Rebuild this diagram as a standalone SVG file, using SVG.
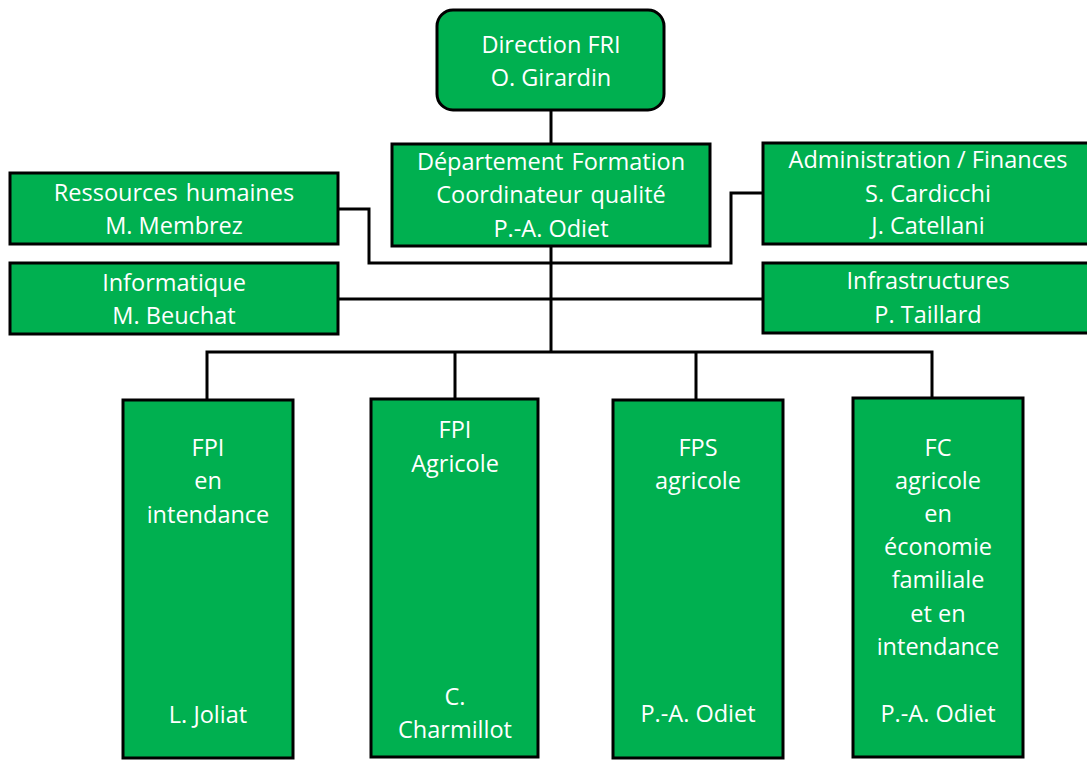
<svg xmlns="http://www.w3.org/2000/svg" width="1087" height="760" viewBox="0 0 1087 760">
<style>
.box{fill:#00B050;stroke:#000;stroke-width:3}
.t{font-family:"Open Sans",Lato,sans-serif;font-size:23.5px;fill:#fff;text-anchor:middle}
.c{fill:none;stroke:#000;stroke-width:3}
</style>
<rect width="1087" height="760" fill="#fff"/>
<g id="connectors">
<path class="c" d="M551 110V144"/>
<path class="c" d="M551 247V352"/>
<path class="c" d="M338 209H369V263H731V193H763"/>
<path class="c" d="M338 299H763"/>
<path class="c" d="M207 400V352H932V400M455 352V400M696 352V400"/>
</g>
<g id="direction">
<rect class="box" x="437" y="10" width="227" height="100" rx="16"/>
<text class="t" x="551" y="53">Direction FRI</text>
<text class="t" x="551" y="86">O. Girardin</text>
</g>
<g id="departement">
<rect class="box" x="392" y="144" width="318" height="102"/>
<text class="t" x="551" y="170" word-spacing="2">Département Formation</text>
<text class="t" x="551" y="203" word-spacing="2">Coordinateur qualité</text>
<text class="t" x="551" y="237">P.-A. Odiet</text>
</g>
<g id="rh">
<rect class="box" x="10" y="173" width="328" height="71"/>
<text class="t" x="174" y="201" word-spacing="2">Ressources humaines</text>
<text class="t" x="174" y="234">M. Membrez</text>
</g>
<g id="informatique">
<rect class="box" x="10" y="263" width="328" height="71"/>
<text class="t" x="174" y="291">Informatique</text>
<text class="t" x="174" y="324">M. Beuchat</text>
</g>
<g id="admin">
<rect class="box" x="763" y="143" width="330" height="101"/>
<text class="t" x="928" y="168">Administration / Finances</text>
<text class="t" x="928" y="202">S. Cardicchi</text>
<text class="t" x="928" y="234">J. Catellani</text>
</g>
<g id="infra">
<rect class="box" x="763" y="263" width="330" height="70"/>
<text class="t" x="928" y="289">Infrastructures</text>
<text class="t" x="928" y="323">P. Taillard</text>
</g>
<g id="fpi-intendance">
<rect class="box" x="123" y="400" width="170" height="358"/>
<text class="t" x="208" y="456">FPI</text>
<text class="t" x="208" y="489">en</text>
<text class="t" x="208" y="523">intendance</text>
<text class="t" x="208" y="723">L. Joliat</text>
</g>
<g id="fpi-agricole">
<rect class="box" x="371" y="399" width="167" height="358"/>
<text class="t" x="455" y="438">FPI</text>
<text class="t" x="455" y="472">Agricole</text>
<text class="t" x="455" y="705">C.</text>
<text class="t" x="455" y="738">Charmillot</text>
</g>
<g id="fps-agricole">
<rect class="box" x="613" y="400" width="170" height="358"/>
<text class="t" x="698" y="456">FPS</text>
<text class="t" x="698" y="489">agricole</text>
<text class="t" x="698" y="722">P.-A. Odiet</text>
</g>
<g id="fc-agricole">
<rect class="box" x="853" y="398" width="170" height="359"/>
<text class="t" x="938" y="456">FC</text>
<text class="t" x="938" y="489">agricole</text>
<text class="t" x="938" y="522">en</text>
<text class="t" x="938" y="555">économie</text>
<text class="t" x="938" y="588">familiale</text>
<text class="t" x="938" y="622">et en</text>
<text class="t" x="938" y="655">intendance</text>
<text class="t" x="938" y="722">P.-A. Odiet</text>
</g>
</svg>
